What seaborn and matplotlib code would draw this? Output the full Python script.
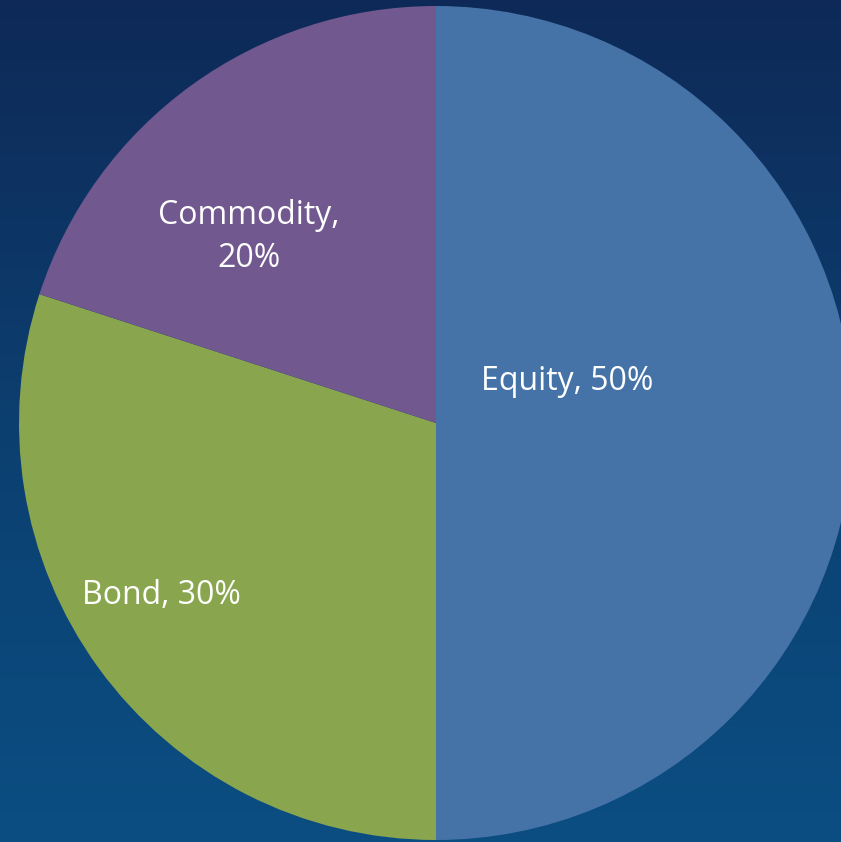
import numpy as np
import matplotlib
matplotlib.use("Agg")
import matplotlib.pyplot as plt
import seaborn as sns
from matplotlib.colors import LinearSegmentedColormap

categories = ["Equity", "Bond", "Commodity"]
values = [50, 30, 20]
labels = ["Equity, 50%", "Bond, 30%", "Commodity,\n20%"]
colors = ["#4573a7", "#89a54e", "#71588f"]

sns.set_theme(style="white")
plt.rcParams['font.family'] = ['Open Sans', 'DejaVu Sans']

W, H = 841, 842
fig = plt.figure(figsize=(W / 100, H / 100), dpi=100)
ax = fig.add_axes([0, 0, 1, 1])

# background gradient (top dark navy -> bottom lighter blue)
cmap = LinearSegmentedColormap.from_list("bg", ["#0b4e82", "#0c3f70", "#0e2957"])
grad = np.linspace(0, 1, 256).reshape(-1, 1)
ax.imshow(grad, extent=[0, W, 0, H], origin='lower', cmap=cmap, aspect='auto', zorder=0)

cx, cy, r = 436, 419, 417
wedges, _ = ax.pie(values, colors=sns.color_palette(colors), startangle=90, counterclock=False,
                   center=(cx, cy), radius=r, frame=True,
                   wedgeprops=dict(linewidth=0))
for w in wedges:
    w.set_zorder(2)
ax.set_xlim(0, W)
ax.set_ylim(0, H)
ax.set_aspect('equal')
ax.axis('off')

pos = [(567, H - 381), (161, H - 595), (249, H - 237)]
for lab, (x, y) in zip(labels, pos):
    ax.text(x, y, lab, ha='center', va='center', color='white', fontsize=23,
            linespacing=1.4, zorder=3)

fig.savefig("out.png", dpi=100)
